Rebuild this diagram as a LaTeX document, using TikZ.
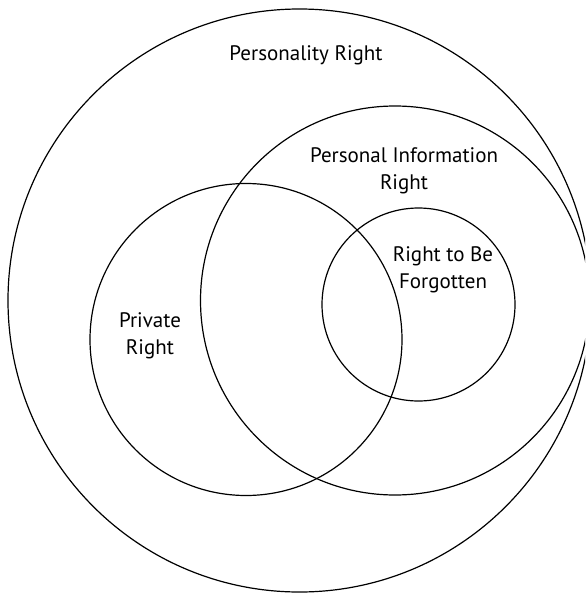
\documentclass[tikz,border=0pt]{standalone}
\usepackage{fontspec}
\setmainfont{PT Sans}
\begin{document}
\begin{tikzpicture}[x=0.5pt,y=-0.5pt,
  ring/.style={line width=0.6pt},
  lbl/.style={align=center,inner sep=0pt,font=\fontsize{10.5}{13.3}\selectfont}]

\useasboundingbox (0,0) rectangle (585,594);
\clip (0,0) rectangle (585,594);

% the four sets
\draw[ring] (299.5,300.5) circle (291.5);
\draw[ring] (395,300.5) circle (194.5);
\draw[ring] (246,339.5) circle (156);
\draw[ring] (418.5,304.5) circle (96.5);

\node[lbl] (personality) at (306,55) {Personality Right};
\node[lbl] (perinfo) at (404,171) {Personal Information\\Right};
\node[lbl] (forgotten) at (443,270) {Right to Be\\Forgotten};
\node[lbl] (private) at (150,336) {Private\\Right};
\end{tikzpicture}
\end{document}
